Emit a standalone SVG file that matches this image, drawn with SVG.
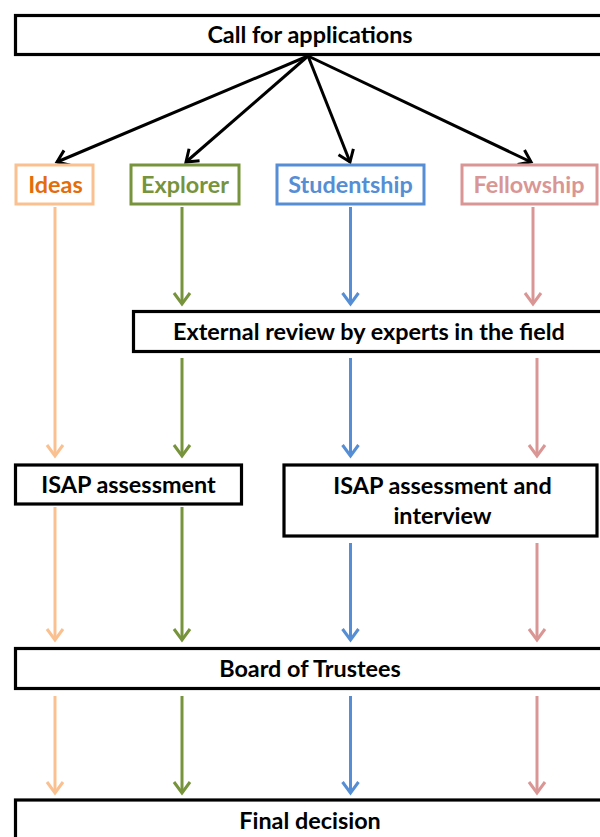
<svg xmlns="http://www.w3.org/2000/svg" width="600" height="837" viewBox="0 0 600 837">
  <style>
    .box { fill: #ffffff; stroke: #000000; stroke-width: 3.2; }
    .lbl { font-family: Lato, "Open Sans", "Liberation Sans", sans-serif; font-weight: bold; font-size: 23.4px; text-anchor: middle; fill: #000000; }
    .cat { fill: #ffffff; stroke-width: 3; }
    .arr { fill: none; stroke-width: 3; stroke-linecap: butt; }
    .k { stroke: #000000; }
    .o { stroke: #FAC090; }
    .g { stroke: #77933C; }
    .b { stroke: #558ED5; }
    .p { stroke: #D99694; }
  </style>
  <defs>
    <marker id="mk" markerUnits="userSpaceOnUse" markerWidth="24" markerHeight="24" viewBox="-14 -12 16 24" refX="0" refY="0" orient="auto">
      <path d="M-11,-8 L0,0 L-11,8" fill="none" stroke="#000000" stroke-width="3"/>
    </marker>
    <marker id="mo" markerUnits="userSpaceOnUse" markerWidth="24" markerHeight="24" viewBox="-14 -12 16 24" refX="0" refY="0" orient="auto">
      <path d="M-11,-8 L0,0 L-11,8" fill="none" stroke="#FAC090" stroke-width="3"/>
    </marker>
    <marker id="mg" markerUnits="userSpaceOnUse" markerWidth="24" markerHeight="24" viewBox="-14 -12 16 24" refX="0" refY="0" orient="auto">
      <path d="M-11,-8 L0,0 L-11,8" fill="none" stroke="#77933C" stroke-width="3"/>
    </marker>
    <marker id="mb" markerUnits="userSpaceOnUse" markerWidth="24" markerHeight="24" viewBox="-14 -12 16 24" refX="0" refY="0" orient="auto">
      <path d="M-11,-8 L0,0 L-11,8" fill="none" stroke="#558ED5" stroke-width="3"/>
    </marker>
    <marker id="mp" markerUnits="userSpaceOnUse" markerWidth="24" markerHeight="24" viewBox="-14 -12 16 24" refX="0" refY="0" orient="auto">
      <path d="M-11,-8 L0,0 L-11,8" fill="none" stroke="#D99694" stroke-width="3"/>
    </marker>
  </defs>

  <g id="connectors">
    <line class="arr k" x1="308" y1="56" x2="57" y2="162" marker-end="url(#mk)"/>
    <line class="arr k" x1="308" y1="56" x2="186" y2="162" marker-end="url(#mk)"/>
    <line class="arr k" x1="308" y1="56" x2="350" y2="162" marker-end="url(#mk)"/>
    <line class="arr k" x1="308" y1="56" x2="531" y2="162" marker-end="url(#mk)"/>

    <line class="arr o" x1="55" y1="207" x2="55" y2="456" marker-end="url(#mo)"/>
    <line class="arr o" x1="55" y1="507" x2="55" y2="640" marker-end="url(#mo)"/>
    <line class="arr o" x1="55" y1="696" x2="55" y2="793" marker-end="url(#mo)"/>

    <line class="arr g" x1="182" y1="207" x2="182" y2="304" marker-end="url(#mg)"/>
    <line class="arr g" x1="182" y1="358" x2="182" y2="456" marker-end="url(#mg)"/>
    <line class="arr g" x1="182" y1="507" x2="182" y2="640" marker-end="url(#mg)"/>
    <line class="arr g" x1="182" y1="696" x2="182" y2="793" marker-end="url(#mg)"/>

    <line class="arr b" x1="350.5" y1="207" x2="350.5" y2="304" marker-end="url(#mb)"/>
    <line class="arr b" x1="350.5" y1="358" x2="350.5" y2="456" marker-end="url(#mb)"/>
    <line class="arr b" x1="350.5" y1="543" x2="350.5" y2="640" marker-end="url(#mb)"/>
    <line class="arr b" x1="350.5" y1="696" x2="350.5" y2="793" marker-end="url(#mb)"/>

    <line class="arr p" x1="533" y1="207" x2="533" y2="304" marker-end="url(#mp)"/>
    <line class="arr p" x1="537" y1="358" x2="537" y2="456" marker-end="url(#mp)"/>
    <line class="arr p" x1="537" y1="543" x2="537" y2="640" marker-end="url(#mp)"/>
    <line class="arr p" x1="537" y1="696" x2="537" y2="793" marker-end="url(#mp)"/>
  </g>

  <g id="call">
    <rect class="box" x="15.5" y="15.5" width="588" height="39"/>
    <text class="lbl" x="310" y="43">Call for applications</text>
  </g>

  <g id="ideas">
    <rect class="cat" stroke="#FAC090" x="16" y="165" width="77" height="39"/>
    <text class="lbl" x="55.5" y="193" style="fill:#E46C0A">Ideas</text>
  </g>
  <g id="explorer">
    <rect class="cat" stroke="#77933C" x="131" y="165" width="108" height="39"/>
    <text class="lbl" x="185" y="193" style="fill:#77933C">Explorer</text>
  </g>
  <g id="studentship">
    <rect class="cat" stroke="#558ED5" x="277" y="165" width="147" height="39"/>
    <text class="lbl" x="350.5" y="193" style="fill:#558ED5">Studentship</text>
  </g>
  <g id="fellowship">
    <rect class="cat" stroke="#D99694" x="462" y="165" width="135" height="39"/>
    <text class="lbl" x="529" y="193" style="fill:#D99694">Fellowship</text>
  </g>

  <g id="external">
    <rect class="box" x="133.5" y="311.5" width="470" height="40"/>
    <text class="lbl" x="369" y="340">External review by experts in the field</text>
  </g>

  <g id="isap">
    <rect class="box" x="15.5" y="465" width="226" height="39"/>
    <text class="lbl" x="128.5" y="493">ISAP assessment</text>
  </g>

  <g id="isap-interview">
    <rect class="box" x="284" y="465" width="313" height="71"/>
    <text class="lbl" x="442.5" y="494">ISAP assessment and</text>
    <text class="lbl" x="442.5" y="524">interview</text>
  </g>

  <g id="board">
    <rect class="box" x="15.5" y="648.5" width="588" height="40"/>
    <text class="lbl" x="310" y="677">Board of Trustees</text>
  </g>

  <g id="final">
    <rect class="box" x="15.5" y="800" width="588" height="60"/>
    <text class="lbl" x="310" y="829">Final decision</text>
  </g>
</svg>
